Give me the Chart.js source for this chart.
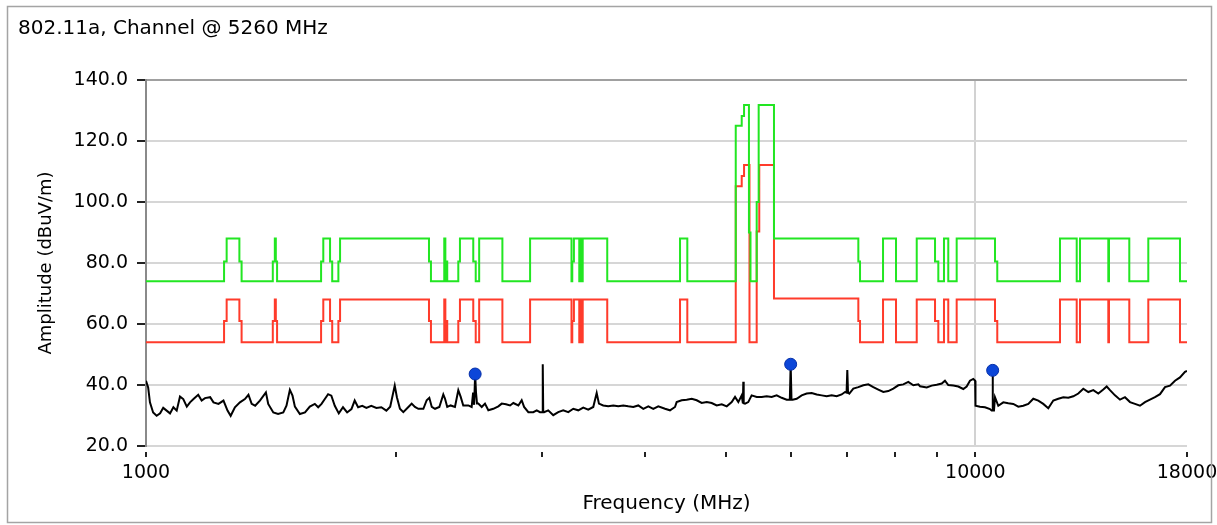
<!DOCTYPE html>
<html>
<head>
<meta charset="utf-8">
<script src="https://cdn.jsdelivr.net/npm/chart.js@4.4.1/dist/chart.umd.min.js"></script>
<style>
  body { margin: 0; background: #fff; }
  canvas { display: block; }
</style>
</head>
<body>
<canvas id="c" width="1217" height="525"></canvas>
<script>
// measured trace (MHz / dBuV/m)
const traceFreq = [
  1000, 1006, 1011, 1020, 1030, 1040, 1049, 1059, 1069, 1079, 1089, 1099, 1109, 1120, 1130, 1141,
  1156, 1167, 1178, 1195, 1206, 1223, 1240, 1254, 1265, 1280, 1298, 1316, 1329, 1341, 1354, 1372,
  1395, 1404, 1424, 1443, 1464, 1477, 1491, 1502, 1512, 1533, 1555, 1576, 1598, 1613, 1628, 1643,
  1658, 1673, 1689, 1708, 1728, 1748, 1769, 1785, 1802, 1823, 1844, 1869, 1896, 1922, 1949, 1970,
  1995, 2007, 2024, 2043, 2072, 2091, 2110, 2130, 2160, 2180, 2196, 2211, 2231, 2258, 2283, 2294,
  2308, 2330, 2358, 2380, 2396, 2413, 2447, 2470, 2480, 2487, 2494, 2500, 2507, 2516, 2540, 2563,
  2587, 2623, 2660, 2685, 2717, 2748, 2773, 2812, 2838, 2857, 2891, 2931, 2959, 2986, 3005, 3009,
  3013, 3020, 3055, 3098, 3141, 3185, 3230, 3275, 3321, 3367, 3414, 3462, 3495, 3517, 3559, 3609,
  3660, 3711, 3763, 3815, 3869, 3923, 3978, 4034, 4090, 4147, 4225, 4284, 4344, 4364, 4425, 4487,
  4550, 4614, 4678, 4744, 4810, 4877, 4946, 5015, 5085, 5132, 5179, 5228, 5245, 5251, 5257, 5276,
  5324, 5374, 5450, 5526, 5603, 5681, 5761, 5841, 5923, 5975, 5989, 6003, 6022, 6090, 6175, 6261,
  6349, 6438, 6528, 6619, 6711, 6805, 6900, 6964, 6995, 7009, 7023, 7048, 7127, 7227, 7328, 7430,
  7534, 7639, 7746, 7854, 7964, 8075, 8188, 8303, 8419, 8537, 8577, 8738, 8860, 8984, 9110, 9192,
  9277, 9407, 9538, 9672, 9763, 9853, 9944, 9995, 10005, 10131, 10272, 10416, 10465, 10490, 10494, 10500,
  10532, 10562, 10659, 10808, 10959, 11112, 11268, 11425, 11585, 11747, 11911, 12077, 12247, 12418, 12592, 12768,
  12947, 13127, 13311, 13497, 13686, 13877, 14071, 14267, 14403, 14535, 14738, 14944, 15153, 15365, 15579, 15796,
  16019, 16242, 16469, 16700, 16933, 17170, 17410, 17653, 17900, 18000
];
const traceDb = [
  41.4, 39.2, 34.3, 31.0, 29.9, 30.7, 32.5, 31.6, 30.7, 32.7, 31.6, 36.2, 35.4, 32.9, 34.3, 35.4,
  36.8, 34.9, 35.7, 36.0, 34.3, 33.8, 34.9, 31.6, 29.9, 32.7, 34.3, 35.4, 36.8, 33.8, 33.2, 34.9,
  37.6, 33.8, 31.0, 30.5, 31.0, 33.2, 38.4, 36.5, 32.9, 30.5, 31.0, 32.9, 33.8, 32.7, 33.8, 35.4,
  37.0, 36.5, 33.2, 30.7, 32.7, 31.0, 32.1, 34.9, 32.7, 33.2, 32.5, 33.2, 32.5, 32.7, 31.6, 32.9,
  39.8, 36.0, 32.2, 31.1, 32.8, 33.9, 32.8, 32.2, 32.2, 35.0, 35.8, 32.8, 32.2, 32.8, 36.9, 35.5,
  32.8, 33.3, 32.8, 38.3, 36.1, 33.3, 33.3, 32.8, 37.5, 33.5, 43.6, 37.5, 33.9, 33.9, 32.8, 33.9,
  31.7, 32.2, 33.0, 33.9, 33.7, 33.3, 34.1, 33.3, 35.0, 32.8, 31.1, 31.1, 31.7, 31.1, 31.1, 46.8,
  31.1, 31.1, 31.7, 30.1, 31.1, 31.7, 31.1, 32.2, 31.7, 32.6, 31.9, 32.8, 37.4, 33.9, 33.3, 33.0,
  33.3, 33.0, 33.3, 33.0, 32.8, 33.3, 32.2, 33.0, 32.2, 33.0, 32.2, 31.7, 32.8, 34.4, 35.0, 35.2,
  35.5, 35.0, 34.1, 34.4, 34.1, 33.3, 33.7, 33.0, 34.4, 36.1, 34.4, 36.6, 34.0, 41.1, 34.0, 33.9,
  34.4, 36.6, 36.1, 36.1, 36.3, 36.1, 36.6, 35.8, 35.2, 35.2, 46.8, 35.2, 35.2, 35.5, 36.6, 37.2,
  37.4, 36.9, 36.6, 36.3, 36.6, 36.3, 36.9, 37.7, 37.5, 44.9, 37.5, 37.2, 38.8, 39.3, 39.9, 40.2,
  39.3, 38.5, 37.7, 38.0, 38.8, 39.9, 40.2, 41.0, 39.9, 40.2, 39.6, 39.2, 39.8, 40.1, 40.5, 41.4,
  40.0, 39.8, 39.5, 38.7, 39.5, 41.4, 42.0, 41.4, 33.2, 32.9, 32.7, 32.1, 31.6, 31.6, 44.8, 31.6,
  31.6, 36.0, 33.2, 34.3, 34.0, 33.8, 32.9, 33.2, 33.8, 35.5, 34.9, 33.8, 32.4, 34.9, 35.5, 36.0,
  35.8, 36.3, 37.2, 38.8, 37.7, 38.3, 37.2, 38.5, 39.5, 38.3, 36.6, 35.2, 36.0, 34.4, 33.8, 33.2,
  34.4, 35.2, 36.0, 37.0, 39.3, 39.8, 41.4, 42.5, 44.3, 44.6
];

// upper limit (green)
const greenFreq = [
  1000, 1242, 1251, 1296, 1304, 1422, 1430, 1434, 1439, 1626, 1636, 1667, 1677, 1706, 1714, 2194,
  2206, 2289, 2296, 2304, 2308, 2380, 2391, 2481, 2498, 2522, 2690, 2905, 3259, 3266, 3281, 3330,
  3339, 3348, 3362, 3599, 4405, 4495, 5142, 5228, 5262, 5334, 5357, 5450, 5480, 5718, 7227, 7261,
  7740, 8024, 8499, 8942, 9024, 9167, 9277, 9496, 10562, 10629, 12651, 13252, 13374, 14467, 14495, 15335,
  16166, 17653, 18000
];
const greenDb = [
  74, 80.5, 88, 80.5, 74, 80.5, 88, 80.5, 74, 80.5, 88, 80.5, 74, 80.5, 88, 80.5,
  74, 88, 74, 80.5, 74, 80.5, 88, 80.5, 74, 88, 74, 88, 74, 80.5, 88, 74,
  88, 74, 88, 74, 88, 74, 125, 128.2, 131.8, 90, 74, 100, 131.8, 88, 80.5, 74,
  88, 74, 88, 80.5, 74, 88, 74, 88, 80.5, 74, 88, 74, 88, 74, 88, 74,
  88, 74, 74
];

// lower limit (red)
const redFreq = [
  1000, 1242, 1251, 1296, 1304, 1422, 1430, 1434, 1439, 1626, 1636, 1667, 1677, 1706, 1714, 2194,
  2206, 2289, 2296, 2304, 2308, 2380, 2391, 2481, 2498, 2522, 2690, 2905, 3259, 3266, 3281, 3330,
  3339, 3348, 3362, 3599, 4405, 4495, 5142, 5228, 5262, 5342, 5450, 5489, 5718, 7227, 7261,
  7740, 8024, 8499, 8942, 9024, 9167, 9277, 9496, 10562, 10629, 12651, 13252, 13374, 14467, 14495, 15335,
  16166, 17653, 18000
];
const redDb = [
  54, 61, 68, 61, 54, 61, 68, 61, 54, 61, 68, 61, 54, 61, 68, 61,
  54, 68, 54, 61, 54, 61, 68, 61, 54, 68, 54, 68, 54, 61, 68, 54,
  68, 54, 68, 54, 68, 54, 105.2, 108.5, 112.1, 54, 90.3, 112.1, 68.4, 61, 54,
  68, 54, 68, 61, 54, 68, 54, 68, 61, 54, 68, 54, 68, 54, 68, 54,
  68, 54, 54
];

// peak markers
const markerFreq = [2494, 5989, 10494];
const markerDb = [43.6, 46.8, 44.8];

const xTickValues = [1000, 2000, 3000, 4000, 5000, 6000, 7000, 8000, 9000, 10000, 18000];
const xLabelValues = [1000, 10000, 18000];

const FONT = 'DejaVu Sans';
const pts = (xs, ys) => xs.map((x, i) => ({ x: x, y: ys[i] }));

const framePlugin = {
  id: 'frame',
  afterDraw(chart) {
    const ctx = chart.ctx;
    ctx.save();
    ctx.strokeStyle = '#a4a4a4';
    ctx.lineWidth = 1.5;
    ctx.strokeRect(7.5, 6.5, 1204, 516);
    ctx.restore();
  }
};

const ctx = document.getElementById('c').getContext('2d');
const chart = new Chart(ctx, {
  type: 'line',
  data: {
    datasets: [
      {
        label: 'Markers',
        type: 'scatter',
        data: pts(markerFreq, markerDb),
        pointRadius: 6,
        pointBackgroundColor: '#0c46d8',
        pointBorderColor: '#0630a8',
        pointBorderWidth: 1
      },
      {
        label: 'Trace',
        data: pts(traceFreq, traceDb),
        borderColor: '#000',
        borderWidth: 2,
        pointRadius: 0,
        tension: 0
      },
      {
        label: 'Limit 1',
        data: pts(greenFreq, greenDb),
        stepped: true,
        borderColor: '#22e622',
        borderWidth: 2,
        pointRadius: 0
      },
      {
        label: 'Limit 2',
        data: pts(redFreq, redDb),
        stepped: true,
        borderColor: '#ff3b2b',
        borderWidth: 2,
        pointRadius: 0
      }
    ]
  },
  options: {
    responsive: false,
    animation: false,
    layout: { padding: { left: 18, right: 30, top: 0, bottom: 0 } },
    plugins: {
      legend: { display: false },
      tooltip: { enabled: false },
      title: {
        display: true,
        text: '802.11a, Channel @ 5260 MHz',
        align: 'start',
        color: '#000',
        font: { family: FONT, size: 20, weight: 'normal', lineHeight: 1.2 },
        padding: { top: 17, bottom: 39 }
      }
    },
    scales: {
      x: {
        type: 'logarithmic',
        min: 1000,
        max: 18000,
        afterBuildTicks: (scale) => { scale.ticks = xTickValues.map(v => ({ value: v })); },
        afterFit: (scale) => {
          scale.height = 79;
          scale.paddingLeft = 0;
          scale.paddingRight = 0;
        },
        border: { display: false },
        grid: {
          color: (c) => (c.tick && c.tick.value === 10000) ? '#d2d2d2' : 'rgba(0,0,0,0)',
          lineWidth: 2,
          drawTicks: true,
          tickLength: 12,
          tickWidth: 2,
          tickColor: '#222',
          tickBorderDash: [0, 6, 5, 60]
        },
        ticks: {
          autoSkip: false,
          maxRotation: 0,
          padding: 4,
          color: '#000',
          font: { family: FONT, size: 19 },
          callback: (v) => xLabelValues.includes(v) ? String(v) : ''
        },
        title: {
          display: true,
          text: 'Frequency (MHz)',
          color: '#000',
          font: { family: FONT, size: 20 },
          padding: { top: 0, bottom: 9 }
        }
      },
      y: {
        min: 20,
        max: 140,
        afterFit: (scale) => { scale.width = 128; },
        border: { display: true, color: '#8a8a8a', width: 2 },
        grid: {
          color: (c) => (c.tick && c.tick.value === 140) ? '#a0a0a0' : '#d6d6d6',
          lineWidth: 2,
          tickLength: 14,
          tickWidth: 2,
          tickColor: '#222',
          tickBorderDash: [0, 5, 8, 60]
        },
        ticks: {
          stepSize: 20,
          padding: 4,
          color: '#000',
          font: { family: FONT, size: 19 },
          callback: (v) => Number(v).toFixed(1)
        },
        title: {
          display: true,
          text: 'Amplitude (dBuV/m)',
          color: '#000',
          font: { family: FONT, size: 18 },
          padding: { top: 18, bottom: 0 }
        }
      }
    }
  },
  plugins: [framePlugin]
});
</script>
</body>
</html>
